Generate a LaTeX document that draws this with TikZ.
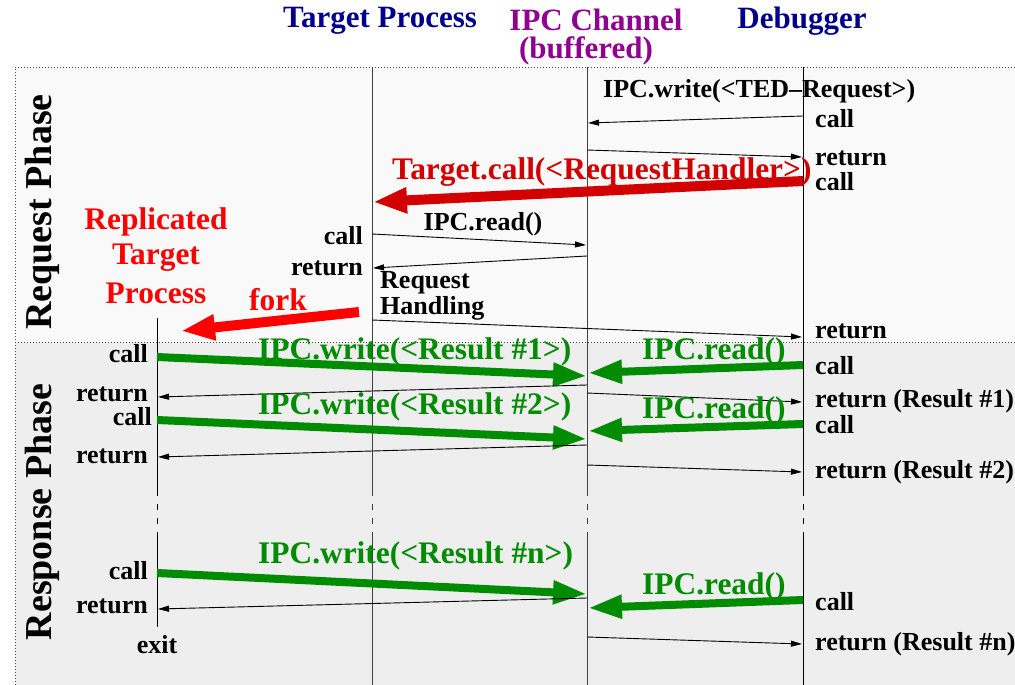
\documentclass[tikz,border=0pt]{standalone}
\usepackage{fontspec}
\setmainfont{Liberation Serif}
\usetikzlibrary{arrows.meta}
\definecolor{navyc}{RGB}{0,0,140}
\definecolor{purplec}{RGB}{145,0,145}
\definecolor{greenc}{RGB}{0,140,0}
\definecolor{darkredc}{RGB}{210,0,0}
\definecolor{redc}{RGB}{255,0,0}
\definecolor{reqbg}{RGB}{249,249,249}
\definecolor{resbg}{RGB}{238,238,238}
\tikzset{
  lbl/.style={inner sep=0pt, font=\fontsize{26}{28}\selectfont\bfseries, text=black},
  hdr/.style={inner sep=0pt, font=\fontsize{31}{33}\selectfont\bfseries},
  clbl/.style={inner sep=0pt, font=\fontsize{31.4}{33}\selectfont\bfseries},
  phase/.style={inner sep=0pt, font=\fontsize{38}{40}\selectfont\bfseries, rotate=90},
  life/.style={draw=black!75, line width=1pt},
  lifegap/.style={draw=black!75, line width=1pt, dash pattern=on 6pt off 8pt},
  thin/.style={draw=black, line width=0.9pt, -{Triangle[length=11pt,width=6pt]}},
  garrow/.style={draw=greenc, line width=8pt, -{Triangle[length=34pt,width=22pt]}},
  rarrow/.style={line width=10pt, -{Triangle[length=34pt,width=24pt]}},
  frame/.style={draw=black!70, line width=0.8pt, dash pattern=on 1pt off 2pt},
}
\begin{document}
\begin{tikzpicture}[x=1pt,y=-1pt]
\useasboundingbox (0,0) rectangle (1015,685);
% backgrounds
\fill[reqbg] (15,67) rectangle (1015,342);
\fill[resbg] (15,342) rectangle (1015,685);
\draw[frame] (1015,67) -- (15,67) -- (15,685);
\draw[frame] (15,342) -- (1015,342);

% headers
\node[hdr, text=navyc] (hTP) at (380,21) {Target Process};
\node[hdr, text=purplec] (hIPC) at (596,20) {IPC Channel};
\node[hdr, text=purplec] (hbuf) at (586,51) {(buffered)};
\node[hdr, text=navyc] (hDbg) at (802,21) {Debugger};

% phase labels
\node[phase] (pReq) at (42,212) {Request Phase};
\node[phase] (pRes) at (42,512) {Response Phase};

% lifelines
\coordinate (tpTop) at (372,67); \coordinate (tpA) at (372,490); \coordinate (tpB) at (372,535); \coordinate (tpBot) at (372,685);
\coordinate (icTop) at (587,67); \coordinate (icA) at (587,490); \coordinate (icB) at (587,535); \coordinate (icBot) at (587,685);
\coordinate (dbTop) at (803,67); \coordinate (dbA) at (803,490); \coordinate (dbB) at (803,535); \coordinate (dbBot) at (803,685);
\coordinate (rpTop) at (157,318); \coordinate (rpA) at (157,490); \coordinate (rpB) at (157,535); \coordinate (rpBot) at (157,627);
\draw[life] (tpTop) -- (tpA); \draw[lifegap] (tpA) -- (tpB); \draw[life] (tpB) -- (tpBot);
\draw[life] (icTop) -- (icA); \draw[lifegap] (icA) -- (icB); \draw[life] (icB) -- (icBot);
\draw[life, draw=black] (dbTop) -- (dbA); \draw[lifegap, draw=black] (dbA) -- (dbB); \draw[life, draw=black] (dbB) -- (dbBot);
\draw[life, draw=black] (rpTop) -- (rpA); \draw[lifegap, draw=black] (rpA) -- (rpB); \draw[life, draw=black] (rpB) -- (rpBot);

% ---------- request phase ----------
\node[lbl, anchor=west] (tedw) at (603,91) {IPC.write(<TED--Request>)};
\coordinate (m1s) at (803,116); \coordinate (m1e) at (588,123);
\draw[thin] (m1s) -- (m1e);
\node[lbl, anchor=west] (c1) at (815,119) {call};
\coordinate (m2s) at (587,150); \coordinate (m2e) at (802,157);
\draw[thin] (m2s) -- (m2e);
\node[lbl, anchor=west] (r1) at (815,158) {return};
\node[lbl, anchor=west] (c2) at (815,182) {call};

\coordinate (tcS) at (803,181); \coordinate (tcE) at (373,202);
\draw[rarrow, draw=darkredc] (tcS) -- (tcE);
\node[clbl, text=darkredc, anchor=west] (tcl) at (392,172) {Target.call(<RequestHandler>)};

\node[lbl] (rd1) at (483,224) {IPC.read()};
\coordinate (m3s) at (372,234); \coordinate (m3e) at (586,245);
\draw[thin] (m3s) -- (m3e);
\node[lbl, anchor=east] (c3) at (363,236) {call};
\coordinate (m4s) at (587,256); \coordinate (m4e) at (373,268);
\draw[thin] (m4s) -- (m4e);
\node[lbl, anchor=east] (r3) at (363,268) {return};
\node[lbl, anchor=west] (rh1) at (380,283) {Request};
\node[lbl, anchor=west] (rh2) at (380,308) {Handling};
\coordinate (m5s) at (372,320); \coordinate (m5e) at (802,337);
\draw[thin] (m5s) -- (m5e);
\node[lbl, anchor=west] (r5) at (815,331) {return};

\node[clbl, text=redc] (rep1) at (156,222) {Replicated};
\node[clbl, text=redc] (rep2) at (156,258) {Target};
\node[clbl, text=redc] (rep3) at (156,293) {Process};
\node[clbl, text=redc] (fork) at (278,300) {fork};
\coordinate (fkS) at (359,312); \coordinate (fkE) at (181,331);
\draw[rarrow, draw=redc] (fkS) -- (fkE);

% ---------- response phase ----------
% round 1
\node[clbl, text=greenc, anchor=west] (w1) at (258,352) {IPC.write(<Result \#1>)};
\coordinate (w1s) at (157,357); \coordinate (w1e) at (587,376);
\draw[garrow] (w1s) -- (w1e);
\node[lbl, anchor=east] (lc1) at (148,354) {call};
\node[clbl, text=greenc, anchor=west] (rr1) at (642,352) {IPC.read()};
\coordinate (g1s) at (803,365); \coordinate (g1e) at (588,373);
\draw[garrow] (g1s) -- (g1e);
\node[lbl, anchor=west] (dc1) at (815,366) {call};
\coordinate (b1s) at (587,385); \coordinate (b1e) at (158,397);
\draw[thin] (b1s) -- (b1e);
\node[lbl, anchor=east] (lr1) at (148,394) {return};
\coordinate (d1s) at (587,393); \coordinate (d1e) at (802,402);
\draw[thin] (d1s) -- (d1e);
\node[lbl, anchor=west] (dr1) at (815,401) {return (Result \#1)};
% round 2
\node[clbl, text=greenc, anchor=west] (w2) at (258,407) {IPC.write(<Result \#2>)};
\coordinate (w2s) at (157,420); \coordinate (w2e) at (587,439);
\draw[garrow] (w2s) -- (w2e);
\node[lbl, anchor=east] (lc2) at (152,417) {call};
\node[clbl, text=greenc, anchor=west] (rr2) at (642,411) {IPC.read()};
\coordinate (g2s) at (803,424); \coordinate (g2e) at (588,431);
\draw[garrow] (g2s) -- (g2e);
\node[lbl, anchor=west] (dc2) at (815,425) {call};
\coordinate (b2s) at (587,445); \coordinate (b2e) at (158,457);
\draw[thin] (b2s) -- (b2e);
\node[lbl, anchor=east] (lr2) at (148,456) {return};
\coordinate (d2s) at (587,465); \coordinate (d2e) at (802,472);
\draw[thin] (d2s) -- (d2e);
\node[lbl, anchor=west] (dr2) at (815,472) {return (Result \#2)};
% round n
\node[clbl, text=greenc, anchor=west] (wn) at (258,556) {IPC.write(<Result \#n>)};
\coordinate (wns) at (157,573); \coordinate (wne) at (587,594);
\draw[garrow] (wns) -- (wne);
\node[lbl, anchor=east] (lcn) at (148,571) {call};
\node[clbl, text=greenc, anchor=west] (rrn) at (642,587) {IPC.read()};
\coordinate (gns) at (803,600); \coordinate (gne) at (588,608);
\draw[garrow] (gns) -- (gne);
\node[lbl, anchor=west] (dcn) at (815,602) {call};
\coordinate (bns) at (587,598); \coordinate (bne) at (158,609);
\draw[thin] (bns) -- (bne);
\node[lbl, anchor=east] (lrn) at (148,606) {return};
\node[lbl] (exit) at (157,645) {exit};
\coordinate (dns) at (587,637); \coordinate (dne) at (802,644);
\draw[thin] (dns) -- (dne);
\node[lbl, anchor=west] (drn) at (815,644) {return (Result \#n)};
\end{tikzpicture}
\end{document}
